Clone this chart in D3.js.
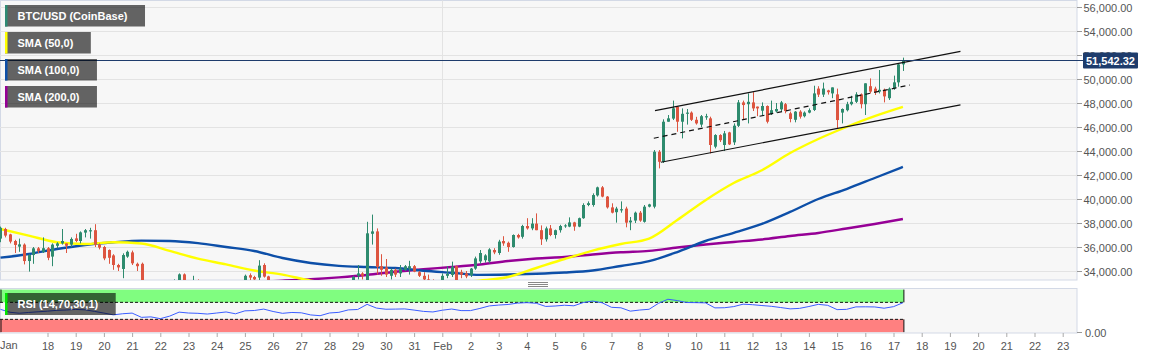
<!DOCTYPE html>
<html><head><meta charset="utf-8">
<script src="https://cdn.jsdelivr.net/npm/d3@7"></script>
<style>body{margin:0;background:#fff;} svg{display:block;font-family:"Liberation Sans",Arial,sans-serif;}</style>
</head><body><svg id="c" width="1153" height="359"></svg>
<script>
// ---------- DATA (prices in thousands USD) ----------
const candleStart = "2021-01-16T08:00:00Z";   // first 4h candle
const candleHours = 4;
// [open, high, low, close]
const candles = [
[36.7,37.7,36.4,37.6],[37.5,37.6,36.8,36.95],[37.05,37.1,36.3,36.45],[36.5,36.6,35.5,36.17],[36.03,36.7,35.6,36.22],[36.2,36.3,34.55,34.83],
[34.83,35.4,33.95,35.33],[35.33,36.0,34.6,35.89],[35.89,36.0,35.5,35.67],[35.6,36.8,35.5,35.9],[35.9,36.0,34.9,35.1],[35.2,36.3,34.4,36.2],
[36.1,36.4,35.9,36.3],[36.3,37.5,36.2,36.5],[36.3,36.3,35.5,36.1],[36.2,36.8,36.0,36.67],[36.72,37.1,36.4,36.5],[36.5,37.3,36.3,37.22],
[37.2,37.5,36.8,37.4],[37.3,37.6,36.7,37.4],[37.4,37.9,36.0,36.2],[36.2,36.3,35.8,35.95],[36.0,36.1,34.9,35.05],[35.75,35.8,34.6,35.1],
[35.3,35.4,34.1,34.5],[34.5,34.6,34.0,34.3],[34.17,35.47,33.4,35.33],[35.2,35.7,35.1,35.6],[35.55,35.7,34.5,34.64],[34.6,34.7,34.0,34.4],
[34.6,34.7,32.8,33.0],[33.0,33.2,31.8,32.2],[32.2,32.6,30.9,31.4],[31.4,31.9,30.4,30.8],[30.8,31.5,29.8,31.1],[31.1,32.0,30.6,31.6],
[31.6,32.8,31.2,32.5],[32.5,33.3,32.1,33.0],[33.0,33.8,32.8,33.72],[33.72,33.8,32.9,33.1],[33.1,33.2,32.4,32.7],[32.7,33.6,32.5,33.2],
[33.2,33.3,32.6,32.8],[32.8,33.0,32.3,32.5],[32.5,32.9,32.1,32.7],[32.7,33.1,32.5,32.9],[32.9,33.2,32.6,32.6],[32.6,32.8,31.9,32.1],
[32.1,32.6,31.8,32.4],[32.4,32.9,32.2,32.7],[32.7,33.0,32.4,32.9],[32.9,33.25,32.7,33.2],[33.2,33.7,33.0,33.6],[33.65,33.8,33.2,33.45],
[33.5,33.6,33.0,33.3],[33.45,34.9,33.2,34.45],[34.5,34.64,33.45,33.53],[33.55,33.6,32.8,33.0],[33.0,33.2,32.2,32.4],[32.4,32.7,31.8,32.0],
[32.0,32.5,31.6,32.3],[32.3,32.9,32.0,32.6],[32.6,33.1,32.3,32.8],[32.8,33.0,31.9,32.1],[32.1,32.3,30.8,31.2],[31.2,31.6,30.2,30.6],
[30.6,31.0,29.6,30.1],[30.1,30.9,29.8,30.6],[30.6,31.3,30.2,31.0],[31.0,31.8,30.7,31.5],[31.5,32.2,31.2,31.9],[31.9,32.6,31.6,32.3],
[32.3,32.9,32.0,32.5],[32.5,33.1,32.2,32.9],[32.9,33.2,32.6,33.0],[33.0,33.6,32.8,33.5],[33.6,34.5,33.3,33.8],[33.8,33.9,33.3,33.6],
[33.2,38.1,32.5,37.14],[37.1,38.7,36.2,37.3],[37.3,37.55,33.7,34.35],[34.4,35.4,33.6,34.1],[34.3,35.0,33.5,33.7],[33.6,34.2,33.3,34.1],
[34.1,34.2,33.5,33.7],[33.8,34.5,33.5,34.2],[34.1,34.5,34.0,34.4],[34.2,34.85,33.7,34.4],[34.4,34.5,33.9,33.95],[33.9,34.0,33.5,33.6],
[33.6,33.9,33.0,33.3],[33.3,33.7,32.8,33.0],[33.0,33.3,32.4,32.8],[32.8,33.2,32.3,33.0],[33.0,33.8,32.8,33.6],[33.6,34.4,33.4,33.75],
[33.67,34.78,33.5,34.36],[34.4,34.45,33.0,33.25],[33.9,34.1,33.4,33.7],[33.8,34.0,33.4,33.55],[33.65,34.25,33.5,34.2],[34.2,35.2,34.1,35.05],
[34.8,35.75,34.6,35.5],[34.9,35.4,34.7,35.3],[34.8,35.9,34.65,35.8],[35.75,35.9,35.4,35.55],[35.5,36.6,35.35,36.45],[36.5,36.9,36.1,36.3],
[36.35,36.45,35.6,36.0],[36.0,37.05,35.95,37.0],[37.0,37.1,36.7,36.8],[36.85,37.85,36.7,37.75],[37.75,38.4,37.45,37.55],[37.55,38.4,37.4,37.95],
[37.95,38.8,37.4,37.4],[37.4,37.8,36.17,36.64],[36.64,37.7,36.45,37.55],[37.55,37.83,36.9,37.0],[37.0,37.45,36.7,37.4],[37.4,37.85,37.2,37.75],
[37.75,37.9,37.6,37.8],[37.7,38.47,37.65,38.05],[38.05,38.1,37.35,37.7],[37.7,38.45,37.65,38.4],[38.4,39.64,38.35,39.5],[39.5,39.8,39.4,39.65],
[39.5,40.47,39.36,40.33],[40.3,41.03,40.2,40.97],[40.97,41.08,40.14,40.2],[40.2,40.25,39.2,39.3],[39.3,39.64,38.8,38.86],[38.9,39.35,38.03,39.2],
[39.05,39.8,38.86,39.15],[39.2,39.36,37.64,38.03],[38.05,38.5,37.4,38.2],[38.2,38.95,38.0,38.86],[38.86,39.0,38.1,38.2],[38.1,39.5,38.03,39.36],
[39.36,39.6,39.3,39.55],[39.36,44.08,39.22,43.94],[43.94,44.08,42.55,43.1],[43.1,46.64,43.0,46.44],[46.44,47.0,46.44,46.72],[46.7,48.2,46.58,47.56],
[47.69,47.75,45.6,46.44],[46.44,47.55,45.05,47.1],[47.1,47.5,46.2,47.2],[47.2,47.3,46.5,46.6],[46.6,46.85,46.2,46.3],[46.2,47.0,46.0,46.9],
[46.8,47.1,46.6,46.9],[46.72,46.86,43.8,44.5],[44.36,45.4,44.22,45.33],[45.33,45.4,44.75,44.9],[44.5,45.67,44.0,45.47],[45.55,45.6,44.5,44.55],
[44.72,46.3,44.5,46.11],[46.1,48.25,46.0,48.05],[48.05,48.2,46.6,47.83],[47.9,48.8,46.3,48.1],[48.05,48.9,47.33,47.55],[47.7,47.7,46.9,47.55],
[47.36,48.05,47.0,47.75],[47.75,47.8,46.3,46.44],[47.1,48.2,47.0,47.4],[47.3,48.0,47.2,47.5],[47.47,48.17,47.33,48.05],[47.9,48.0,47.14,47.33],
[47.14,47.28,46.39,46.67],[46.6,47.33,46.39,47.28],[47.28,47.4,46.7,46.86],[46.9,47.3,46.8,47.2],[47.2,47.55,47.14,47.4],[47.42,49.44,47.33,48.8],
[49.2,49.4,48.5,48.7],[48.7,49.7,48.5,49.2],[49.05,49.1,48.7,48.9],[48.8,49.3,48.4,49.3],[48.72,49.2,45.9,46.58],[47.2,47.55,46.3,47.5],
[47.4,48.1,47.3,47.9],[47.9,48.6,47.8,48.1],[48.1,48.9,48.0,48.72],[48.72,48.8,47.55,47.9],[47.9,49.64,47.0,49.64],[49.4,50.05,48.8,48.95],
[49.2,49.36,48.67,48.9],[48.95,50.75,48.8,49.1],[49.1,49.2,48.05,48.55],[48.4,49.3,48.25,49.2],[49.2,50.28,49.1,49.72],[49.72,51.3,49.36,51.22],
[51.22,51.78,50.67,51.54]
];
// moving averages sampled once a day (every 6th candle, from candle 0)
const sma50 = [37.5,36.95,36.4,36.25,36.39,36.29,35.67,35.03,34.55,34.04,33.7,33.2,32.9,32.7,32.7,32.8,33.0,33.2,33.5,34.25,35.0,35.7,36.25,36.7,38.25,39.9,41.33,42.4,43.83,45.0,46.0,46.9,47.67];
const sma100 = [35.11,35.42,35.83,36.17,36.39,36.53,36.5,36.32,36.0,35.67,35.08,34.67,34.43,34.33,34.25,34.02,33.85,33.68,33.71,33.77,33.87,34.04,34.42,34.82,35.58,36.5,37.17,37.92,38.92,40.0,40.83,41.75,42.67];
const sma200 = [31.0,31.3,31.6,31.9,32.2,32.4,32.6,32.8,32.95,33.05,33.2,33.31,33.47,33.67,33.94,34.15,34.33,34.54,34.83,35.04,35.17,35.38,35.56,35.68,35.96,36.21,36.42,36.63,36.92,37.17,37.54,37.92,38.33];
// RSI sampled every 2nd candle
const rsi = [53.5,46.7,44.4,46.2,47.8,49.3,51.2,52.0,53.3,52.4,48.7,44.8,40.5,43.2,44.7,34.7,35.8,31.6,37.6,47.0,44.9,44.2,42.5,44.9,47.4,43.1,50.0,50.8,54.1,48.5,44.2,46.2,45.4,40.4,38.6,45.0,46.5,52.2,53.2,65.3,56.5,53.8,54.1,54.6,51.8,48.7,47.4,51.5,54.3,50.6,50.6,55.7,61.6,63.6,65.0,68.2,69.3,67.8,60.4,61.4,63.2,61.9,69.6,73.0,69.0,58.3,57.2,49.3,51.9,53.7,67.7,77.3,74.2,69.6,69.3,68.8,57.0,57.3,60.0,65.7,64.5,62.5,60.7,57.8,54.7,55.8,60.2,65.3,63.0,52.9,53.5,59.3,59.5,59.2,56.2,59.9,69.0];
// drawn channel (time, price)
const channelUpper = [["2021-02-08T13:00:00Z",47.36],["2021-02-19T09:00:00Z",52.3]];
const channelLower = [["2021-02-08T18:00:00Z",43.06],["2021-02-19T09:00:00Z",47.85]];
const channelMid   = [["2021-02-08T12:00:00Z",45.06],["2021-02-17T14:00:00Z",49.5]];
const lastPrice = 51542.32;
const priceTicks = [34,36,38,40,42,44,46,48,50,52,54,56];
const dayTicks = ["2021-01-18","2021-01-19","2021-01-20","2021-01-21","2021-01-22","2021-01-23","2021-01-24","2021-01-25","2021-01-26","2021-01-27","2021-01-28","2021-01-29","2021-01-30","2021-01-31","2021-02-01","2021-02-02","2021-02-03","2021-02-04","2021-02-05","2021-02-06","2021-02-07","2021-02-08","2021-02-09","2021-02-10","2021-02-11","2021-02-12","2021-02-13","2021-02-14","2021-02-15","2021-02-16","2021-02-17","2021-02-18","2021-02-19","2021-02-20","2021-02-21","2021-02-22","2021-02-23"];
const legendItems = [
  {label:"BTC/USD (CoinBase)", color:"#2e8b74"},
  {label:"SMA (50,0)", color:"#ffff00"},
  {label:"SMA (100,0)", color:"#0d4fa8"},
  {label:"SMA (200,0)", color:"#960096"}
];
const rsiLabel = "RSI (14,70,30,1)";
const rsiLevels = [70, 30];

// ---------- LAYOUT ----------
const svg = d3.select("#c");
const W = 1077, mainTop = 0.5, mainBot = 280, rsiTop = 288.5, rsiBot = 333;
const t0 = new Date(candleStart).getTime();
const tOf = i => new Date(t0 + i*candleHours*3600e3);
const x = d3.scaleUtc().domain([new Date("2021-02-01T00:00:00Z"), new Date("2021-02-23T00:00:00Z")]).range([442.3, 1062.7]);
const y = d3.scaleLinear().domain([34,56]).range([271,7]);
const yR = d3.scaleLinear().domain([0,100]).range([332.1,289.6]);

const defs = svg.append("defs");
defs.append("clipPath").attr("id","clipMain").append("rect").attr("x",0).attr("y",mainTop).attr("width",W).attr("height",mainBot-mainTop);
defs.append("clipPath").attr("id","clipRsi").append("rect").attr("x",0).attr("y",rsiTop).attr("width",W).attr("height",rsiBot-rsiTop);

// panels
svg.append("rect").attr("x",0.5).attr("y",mainTop).attr("width",W-0.5).attr("height",mainBot-mainTop).attr("fill","#f7f7f7").attr("stroke","#d3d9e6");
svg.append("rect").attr("x",0.5).attr("y",rsiTop).attr("width",W-0.5).attr("height",rsiBot-rsiTop).attr("fill","#f7f7f7").attr("stroke","#d3d9e6");

const main = svg.append("g").attr("clip-path","url(#clipMain)");
// grid
main.selectAll("line.grid").data(priceTicks).join("line")
  .attr("x1",0).attr("x2",W).attr("y1",d=>Math.round(y(d))+0.5).attr("y2",d=>Math.round(y(d))+0.5)
  .attr("stroke","#e3e3e3");
const febX = Math.round(x(new Date("2021-02-01T00:00:00Z")))+0.5;
main.append("line").attr("x1",febX).attr("x2",febX).attr("y1",0).attr("y2",mainBot).attr("stroke","#e3e3e3");

// SMA lines
const smaLine = d3.line().x((d,k)=>x(tOf(k*6))).y(d=>y(d)).curve(d3.curveMonotoneX);
[[sma200,"#960096"],[sma100,"#0d4fa8"],[sma50,"#ffff00"]].forEach(([arr,col])=>{
  main.append("path").attr("d",smaLine(arr)).attr("fill","none").attr("stroke",col).attr("stroke-width",2.4);
});

// candles
const green = "#2e8b6e", red = "#dd5540";
const cg = main.append("g");
candles.forEach((c,i)=>{
  const [o,h,l,cl] = c;
  const cx = Math.round(x(tOf(i)));
  const col = cl >= o ? green : red;
  cg.append("line").attr("x1",cx+0.5).attr("x2",cx+0.5).attr("y1",y(h)).attr("y2",y(l)).attr("stroke",col).attr("stroke-width",1);
  const top = y(Math.max(o,cl)), bot = y(Math.min(o,cl));
  cg.append("rect").attr("x",cx-1).attr("y",top).attr("width",3).attr("height",Math.max(1,bot-top)).attr("fill",col);
});

// channel
const pl = d3.line().x(d=>x(new Date(d[0]))).y(d=>y(d[1]));
main.append("path").attr("d",pl(channelUpper)).attr("stroke","#111").attr("fill","none").attr("stroke-width",1.2);
main.append("path").attr("d",pl(channelLower)).attr("stroke","#111").attr("fill","none").attr("stroke-width",1.2);
main.append("path").attr("d",pl(channelMid)).attr("stroke","#111").attr("fill","none").attr("stroke-width",1.2).attr("stroke-dasharray","5,4");

// last price line
const lpY = Math.round(y(lastPrice/1000))+0.5;
svg.append("line").attr("x1",0).attr("x2",1083).attr("y1",lpY).attr("y2",lpY).attr("stroke","#1e3c6c").attr("stroke-width",1);

// legend
legendItems.forEach((d,k)=>{
  const g = svg.append("g").attr("transform",`translate(5,${5+k*27})`);
  const text = g.append("text").attr("x",12.5).attr("y",15).attr("fill","#fff").attr("font-size",11).attr("font-weight","bold").text(d.label);
  const w = text.node().getComputedTextLength()+30;
  g.insert("rect","text").attr("width",w).attr("height",21.5).attr("fill","rgba(0,0,0,0.6)");
  g.insert("rect","text").attr("width",2.5).attr("height",21.5).attr("fill",d.color);
});

// right price axis
const ax = svg.append("g");
priceTicks.forEach(v=>{
  const yy = Math.round(y(v))+0.5;
  ax.append("line").attr("x1",W).attr("x2",1082).attr("y1",yy).attr("y2",yy).attr("stroke","#999");
  ax.append("text").attr("x",1083.5).attr("y",yy+4).attr("font-size",11).attr("fill","#555").text(d3.format(",.2f")(v*1000));
});
// last price tag (covers the 52,000.00 label as in the reference)
svg.append("rect").attr("x",1083).attr("y",lpY-8).attr("width",55).attr("height",16).attr("fill","#1e3c6c").attr("rx",1);
svg.append("text").attr("x",1086).attr("y",lpY+4).attr("font-size",11).attr("font-weight","bold").attr("fill","#fff").text(d3.format(",.2f")(lastPrice));

// drag handle
[282.5,284.5,286.5].forEach(yy=>svg.append("line").attr("x1",528).attr("x2",548).attr("y1",yy).attr("y2",yy).attr("stroke","#888"));

// RSI panel
const rg = svg.append("g").attr("clip-path","url(#clipRsi)");
const rsiEnd = x(tOf(candles.length-1))+1;
rg.append("line").attr("x1",febX).attr("x2",febX).attr("y1",rsiTop).attr("y2",rsiBot).attr("stroke","#e3e3e3");
rg.append("rect").attr("x",0).attr("y",yR(100)).attr("width",rsiEnd).attr("height",yR(70)-yR(100)).attr("fill","#80fd80");
rg.append("rect").attr("x",0).attr("y",yR(30)).attr("width",rsiEnd).attr("height",yR(0)-yR(30)).attr("fill","#ff8080");
[[100,70],[30,0]].forEach(([a,b])=>{
  [1,rsiEnd].forEach(xx=>rg.append("line").attr("x1",xx).attr("x2",xx).attr("y1",yR(a)).attr("y2",yR(b)).attr("stroke","#111"));
});
rsiLevels.forEach(v=>rg.append("line").attr("x1",0).attr("x2",rsiEnd).attr("y1",yR(v)).attr("y2",yR(v)).attr("stroke","#111").attr("stroke-dasharray","3,2"));
const rl = d3.line().x((d,j)=>x(tOf(j*2))).y(d=>yR(d));
rg.append("path").attr("d",rl(rsi)).attr("fill","none").attr("stroke","#3a5cff").attr("stroke-width",1);
// rsi legend
const rlg = svg.append("g").attr("transform","translate(5,293)");
const rt = rlg.append("text").attr("x",12.5).attr("y",15).attr("fill","#fff").attr("font-size",11).attr("font-weight","bold").text(rsiLabel);
const rw = rt.node().getComputedTextLength()+30;
rlg.insert("rect","text").attr("width",rw).attr("height",22).attr("fill","rgba(0,0,0,0.6)");
rlg.insert("rect","text").attr("width",2.5).attr("height",22).attr("fill","#00e600");
// 0.00 label
svg.append("line").attr("x1",W).attr("x2",1082).attr("y1",332.5).attr("y2",332.5).attr("stroke","#999");
svg.append("text").attr("x",1085).attr("y",336.5).attr("font-size",11).attr("fill","#555").text("0.00");

// bottom time axis
const xa = d3.axisBottom(x).tickValues(dayTicks.map(d=>new Date(d+"T00:00:00Z"))).tickSize(4).tickPadding(5)
  .tickFormat(d=> (d.getUTCDate()===1 ? "Feb" : d.getUTCDate()));
const xg = svg.append("g").attr("transform",`translate(0,${rsiBot})`).call(xa);
xg.select(".domain").remove();
xg.selectAll("line").attr("stroke","#aaa");
xg.selectAll("text").attr("fill","#555").attr("font-size",11).attr("font-family","Liberation Sans, Arial, sans-serif");
svg.append("text").attr("x",0).attr("y",rsiBot+15.5).attr("font-size",11).attr("fill","#555").text("Jan");
</script></body></html>
